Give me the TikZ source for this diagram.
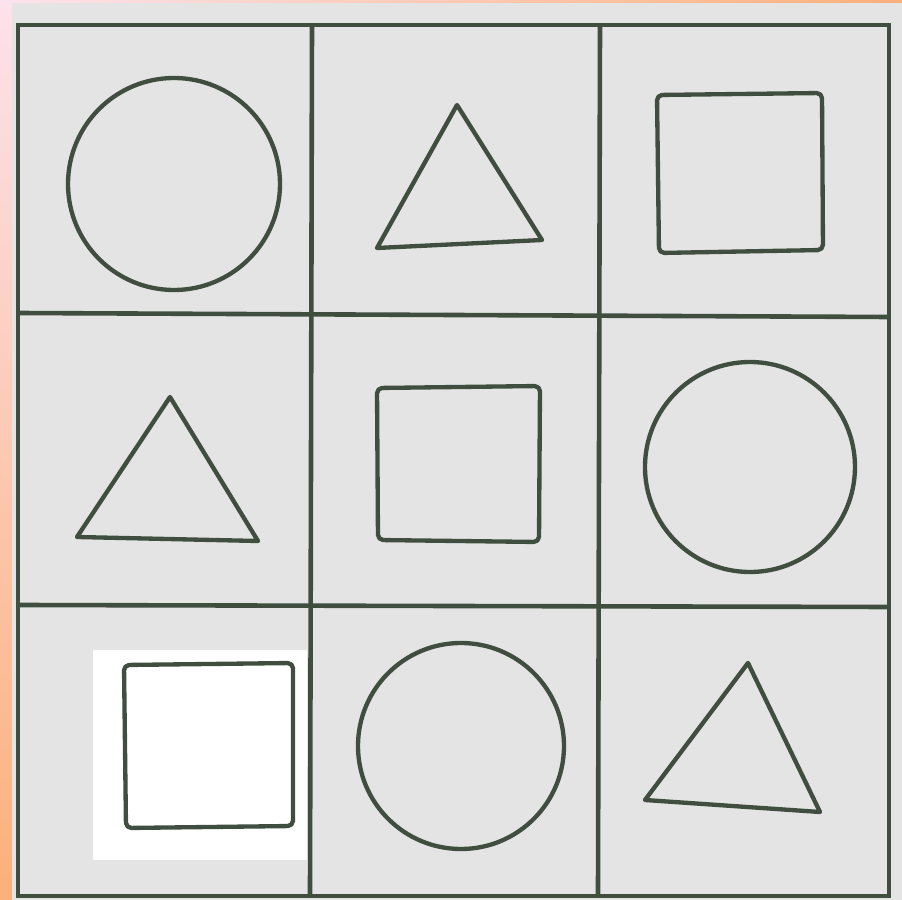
\documentclass[tikz,border=0pt]{standalone}
\usepackage{tikz}
\definecolor{inkgreen}{RGB}{64,78,64}
\definecolor{panelgray}{RGB}{228,228,228}
\definecolor{edgepink}{RGB}{252,226,236}
\definecolor{edgeorange}{RGB}{252,176,122}
\tikzset{
  gridline/.style={draw=inkgreen, line width=3.4pt/2.6},
  figure/.style={draw=inkgreen, line width=3.2pt/2.6, line join=round},
  sqfig/.style={figure, rounded corners=1.5pt}
}

\begin{document}
\begin{tikzpicture}[x=0.1mm, y=-0.1mm]
  \useasboundingbox (0,0) rectangle (902,900);
  % backdrop
  \shade[top color=edgepink, bottom color=edgeorange] (0,0) rectangle (12,900);
  \shade[left color=edgepink, right color=edgeorange] (12,0) rectangle (902,3);
  \fill[panelgray] (12,3) rectangle (902,900);
  \fill[white] (93,650) rectangle (307,860);

  % grid
  \coordinate (tl) at (18,25);
  \coordinate (br) at (889,896);
  \draw[gridline] (tl) rectangle (br);
  \draw[gridline] (312,25) -- (310,896);
  \draw[gridline] (600,26) -- (598,896);
  \draw[gridline] (18,313) -- (889,317);
  \draw[gridline] (18,605) -- (889,607);

  % row 1
  \draw[figure] (174,184) circle (106);
  \draw[figure] (457,105) -- (542,240) -- (377,248) -- cycle;
  \draw[sqfig] (657,95) -- (822,93) -- (823,250) -- (659,253) -- cycle;

  % row 2
  \draw[figure] (170,397) -- (258,541) -- (77,537) -- cycle;
  \draw[sqfig] (377,388) -- (540,386) -- (539,542) -- (378,540) -- cycle;
  \draw[figure] (750,467) circle (105);

  % row 3
  \draw[sqfig] (124,665) -- (293,663) -- (293,826) -- (126,828) -- cycle;
  \draw[figure] (461,746) circle (103);
  \draw[figure] (748,663) -- (820,812) -- (645,800) -- cycle;
\end{tikzpicture}
\end{document}
